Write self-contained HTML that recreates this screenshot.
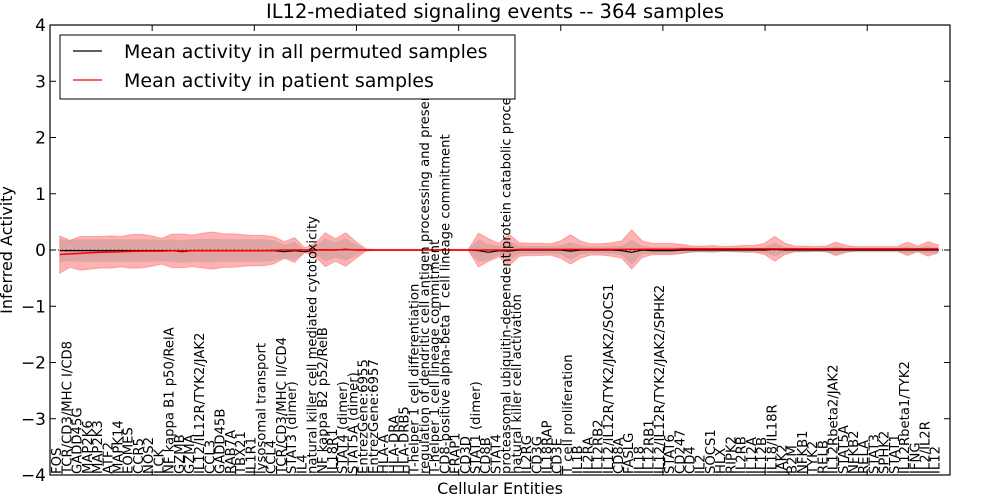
<!DOCTYPE html>
<html><head><meta charset="utf-8"><style>
html,body{margin:0;padding:0;background:#fff}
svg{display:block;font-family:"DejaVu Sans","Liberation Sans",sans-serif}
</style></head><body>
<svg id="chart" width="1000" height="500" viewBox="0 0 1000 500">
<rect x="0" y="0" width="1000" height="500" fill="#fff"/>
<text x="495" y="18" text-anchor="middle" font-size="19.5">IL12-mediated signaling events -- 364 samples</text>
<g id="bands"></g>
<g id="lines"></g>
<g id="ticks"></g>
<g id="xlabels"></g>
<rect x="50" y="25" width="900" height="450" fill="none" stroke="#000" stroke-width="1.2"/>
<text transform="translate(12,250) rotate(-90)" text-anchor="middle" font-size="16">Inferred Activity</text>
<text x="500" y="494" text-anchor="middle" font-size="16">Cellular Entities</text>
<g>
<rect x="60" y="35" width="455" height="64" fill="#fff" stroke="#000" stroke-width="1"/>
<line x1="73" y1="51" x2="102" y2="51" stroke="#000" stroke-width="1.2"/>
<text x="124" y="58" font-size="19">Mean activity in all permuted samples</text>
<line x1="73" y1="80" x2="102" y2="80" stroke="#f00" stroke-width="1.2"/>
<text x="124" y="87" font-size="19">Mean activity in patient samples</text>
</g>
</svg>
<script>
const categories = ["FOS","TCR/CD3/MHC I/CD8","GADD45G","MAP2K6","MAP2K3","ATF2","MAPK14","EOMES","CCR5","NOS2","LCK","NF kappa B1 p50/RelA","GZMB","GZMA","IL12/IL12R/TYK2/JAK2","CCL3","GADD45B","RAB7A","TBX21","IL1R1","lysosomal transport","CCL4","TCR/CD3/MHC II/CD4","STAT3 (dimer)","IL4","natural killer cell mediated cytotoxicity","NF kappa B2 p52/RelB","IL18R1","STAT4 (dimer)","STAT5A (dimer)","EntrezGene:6955","EntrezGene:6957","HLA-A","HLA-DRA","HLA-DRB5","T-helper 1 cell differentiation","regulation of dendritic cell antigen processing and presentation","T-helper 1 cell lineage commitment","CD8-positive alpha-beta T cell lineage commitment","FRAP1","CD3D","STAT1 (dimer)","CD8B","STAT4","proteasomal ubiquitin-dependent protein catabolic process","natural killer cell activation","IL2RG","CD3G","IL18RAP","CD3E","T cell proliferation","IL1B","IL2RA","IL12RB2","IL12/IL12R/TYK2/JAK2/SOCS1","CD8A","FASLG","IL18","IL12RB1","IL12/IL12R/TYK2/JAK2/SPHK2","STAT6","CD247","CD4","IL2","SOCS1","HLX","RIPK2","IL2RB","IL12A","IL12B","IL18/IL18R","JAK2","B2M","NFKB1","TYK2","RELB","IL12Rbeta2/JAK2","STAT5A","NFKB2","RELA","STAT3","SPHK2","STAT1","IL12Rbeta1/TYK2","IFNG","IL2/IL2R","IL12"];
const patientMean = [-0.08,-0.07,-0.06,-0.05,-0.04,-0.035,-0.03,-0.025,-0.02,-0.02,-0.02,-0.015,-0.015,-0.015,-0.01,-0.01,-0.01,-0.01,-0.01,-0.01,-0.01,-0.005,0,0,0,0,0.005,0,0.01,0,0,0,0,0,0,0,0,0,0,0,0,0,0,0,0,0.01,0.01,0.01,0.01,0.01,0.01,0.01,0.01,0.01,0.01,0.01,0.01,0.015,0.015,0.015,0.015,0.02,0.02,0.02,0.02,0.02,0.02,0.02,0.02,0.02,0.02,0.02,0.02,0.02,0.02,0.02,0.02,0.02,0.02,0.02,0.02,0.02,0.02,0.02,0.02,0.02,0.02];
const patientSd = [0.33,0.24,0.30,0.29,0.28,0.29,0.27,0.30,0.30,0.27,0.23,0.30,0.30,0.28,0.31,0.33,0.30,0.30,0.28,0.27,0.27,0.24,0.15,0.22,0.04,0.12,0.30,0.20,0.30,0.15,0.02,0.01,0.01,0.01,0.01,0.01,0.01,0.01,0.01,0.01,0.01,0.30,0.20,0.12,0.28,0.12,0.11,0.11,0.10,0.15,0.26,0.15,0.10,0.10,0.12,0.15,0.35,0.15,0.10,0.10,0.10,0.08,0.05,0.05,0.06,0.04,0.05,0.06,0.06,0.10,0.22,0.10,0.05,0.05,0.04,0.05,0.12,0.06,0.04,0.04,0.04,0.04,0.04,0.12,0.05,0.13,0.07];
const permutedMean = [-0.01,-0.01,-0.01,-0.01,-0.01,-0.01,-0.01,-0.01,-0.01,-0.01,-0.01,-0.01,-0.03,-0.01,-0.01,-0.01,-0.01,-0.01,-0.01,-0.01,-0.01,-0.01,-0.03,-0.01,-0.03,0,0,0,0.01,0,0,0,0,0,0,0,0,0,0,0,0,-0.01,-0.04,-0.01,-0.02,0,0,0,0,0,-0.02,0,0,0,0,-0.01,-0.04,0,-0.01,-0.01,-0.01,0,0,0,0,0,0,0,0,0,0.01,0,0,0,0,0,0,0,0,0,0,0,0,0,0,0,0];
const permutedSd = [0.21,0.19,0.2,0.2,0.2,0.2,0.2,0.2,0.2,0.2,0.19,0.2,0.2,0.2,0.21,0.21,0.2,0.2,0.2,0.2,0.2,0.18,0.12,0.16,0.03,0.08,0.2,0.14,0.2,0.1,0.01,0.01,0.01,0.01,0.01,0.01,0.01,0.01,0.01,0.01,0.01,0.2,0.14,0.08,0.18,0.08,0.07,0.07,0.07,0.08,0.16,0.08,0.06,0.06,0.07,0.08,0.22,0.08,0.06,0.06,0.06,0.06,0.05,0.04,0.04,0.04,0.04,0.04,0.04,0.05,0.12,0.05,0.04,0.04,0.04,0.04,0.07,0.04,0.04,0.04,0.04,0.04,0.04,0.06,0.04,0.07,0.05];
const yTicks = [-4,-3,-2,-1,0,1,2,3,4];
const yTickLabels = ["\u22124","\u22123","\u22122","\u22121","0","1","2","3","4"];
const xTicks = [10,20,30,40,50,60,70,80];

const NS = "http://www.w3.org/2000/svg";
function xk(k){ return 50 + k * 10.215; }
function xs(i){ return xk(i + 0.95); }
function ys(v){ return 250 - v * 56.25; }
function mk(tag, attrs, parent){ const e = document.createElementNS(NS, tag); for (const k in attrs) e.setAttribute(k, attrs[k]); parent.appendChild(e); return e; }
function bandPath(mean, sd){
  let d = "";
  mean.forEach((m,i)=>{ d += (i? "L":"M") + xs(i).toFixed(1) + "," + ys(m + sd[i]).toFixed(1); });
  for (let i = mean.length - 1; i >= 0; i--) d += "L" + xs(i).toFixed(1) + "," + ys(mean[i] - sd[i]).toFixed(1);
  return d + "Z";
}
function linePath(mean){ return mean.map((m,i)=>(i? "L":"M") + xs(i).toFixed(1) + "," + ys(m).toFixed(1)).join(""); }

const bands = document.getElementById("bands");
const pb = mk("path", {d: bandPath(patientMean, patientSd), fill: "#f00", "fill-opacity": "0.3", stroke: "#f00", "stroke-opacity": "0.25", "stroke-width": "1"}, bands);


const gb = mk("path", {d: bandPath(permutedMean, permutedSd), fill: "#808080", "fill-opacity": "0.25", stroke: "none"}, bands);



const lines = document.getElementById("lines");
const zl = mk("line", {x1: 50, x2: 950, y1: ys(0), y2: ys(0), stroke: "#000", "stroke-width": "1", "stroke-dasharray": "1,3"}, lines);


const bl = mk("path", {d: linePath(permutedMean), fill: "none", stroke: "#000", "stroke-width": "1.2"}, lines);


const rl = mk("path", {d: linePath(patientMean), fill: "none", stroke: "#f00", "stroke-width": "1.5"}, lines);



const ticks = document.getElementById("ticks");
yTicks.forEach((v,i)=>{
  const y = ys(v);
  const t1 = mk("line", {x1: 50, x2: 56, y1: y, y2: y, stroke: "#000"}, ticks);
  
  
  const t2 = mk("line", {x1: 944, x2: 950, y1: y, y2: y, stroke: "#000"}, ticks);
  
  
  const lb = mk("text", {x: 46, y: y + 6, "text-anchor": "end", "font-size": "17"}, ticks);
  lb.textContent = yTickLabels[i];
  
  
});
xTicks.forEach(k=>{
  const x = xk(k);
  const a = mk("line", {x1: x, x2: x, y1: 25, y2: 31, stroke: "#000"}, ticks);
  
  
  const b = mk("line", {x1: x, x2: x, y1: 469, y2: 475, stroke: "#000"}, ticks);
  
  
});

const xl = document.getElementById("xlabels");
categories.forEach((c,i)=>{
  const t = mk("text", {transform: "translate(" + (xs(i) + 1.5).toFixed(1) + ",474) rotate(-90)", "font-size": "13.2"}, xl);
  t.textContent = c;
  
  
});
</script>
</body></html>
